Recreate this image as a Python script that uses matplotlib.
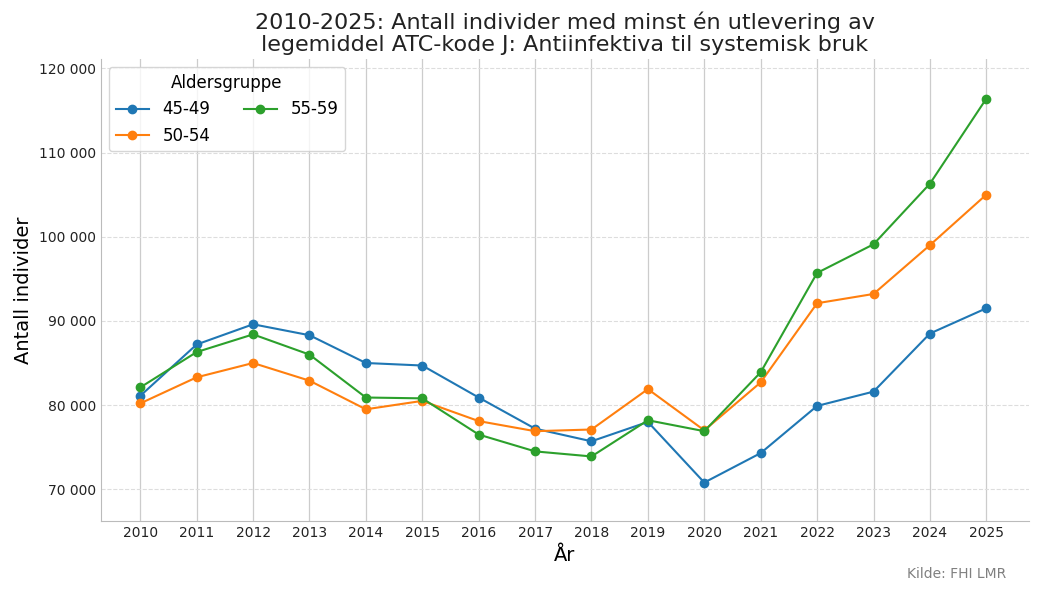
import matplotlib
matplotlib.use("Agg")
import matplotlib.pyplot as plt
from matplotlib.ticker import FuncFormatter

years = list(range(2010, 2026))
g4549 = [81100, 87200, 89600, 88300, 85000, 84700, 80900, 77200, 75700, 78000, 70800, 74300, 79900, 81600, 88500, 91500]
g5054 = [80200, 83300, 85000, 82900, 79500, 80500, 78100, 76900, 77100, 81900, 77000, 82700, 92100, 93200, 99000, 105000]
g5559 = [82100, 86300, 88400, 86000, 80900, 80800, 76500, 74500, 73900, 78200, 76900, 83900, 95700, 99100, 106300, 116400]
series = {"45-49": g4549, "50-54": g5054, "55-59": g5559}
colors = ["#1f77b4", "#ff7f0e", "#2ca02c"]

fig, ax = plt.subplots(figsize=(10.39, 5.91), dpi=100)
for (name, vals), c in zip(series.items(), colors):
    ax.plot(years, vals, marker="o", color=c, label=name, linewidth=1.5, markersize=6)

ax.set_xticks(years)
ax.set_xlim(2009.3, 2025.75)
ax.set_ylim(66200, 121100)
ax.set_yticks(range(70000, 120001, 10000))
ax.yaxis.set_major_formatter(FuncFormatter(lambda v, p: f"{int(v):,}".replace(",", "\u00a0")))
ax.grid(axis="x", color="#cccccc", linewidth=0.9)
ax.grid(axis="y", color="#dddddd", linestyle="--", linewidth=0.8)
ax.set_axisbelow(True)
for s in ["top", "right"]:
    ax.spines[s].set_visible(False)
for s in ["left", "bottom"]:
    ax.spines[s].set_color("#bbbbbb")
ax.tick_params(length=0, labelsize=10, colors="#222222")
ax.set_xlabel("År", fontsize=14)
ax.set_ylabel("Antall individer", fontsize=14)
ax.set_title("2010-2025: Antall individer med minst én utlevering av\nlegemiddel ATC-kode J: Antiinfektiva til systemisk bruk", fontsize=16, color="#222222", linespacing=1.1)
leg = ax.legend(title="Aldersgruppe", ncol=2, fontsize=12, title_fontsize=12, loc="upper left", frameon=True)
fig.text(0.968, 0.022, "Kilde: FHI LMR", ha="right", fontsize=10, color="gray")
fig.subplots_adjust(left=0.097, right=0.99, top=0.9, bottom=0.118)
fig.savefig("out.png")
